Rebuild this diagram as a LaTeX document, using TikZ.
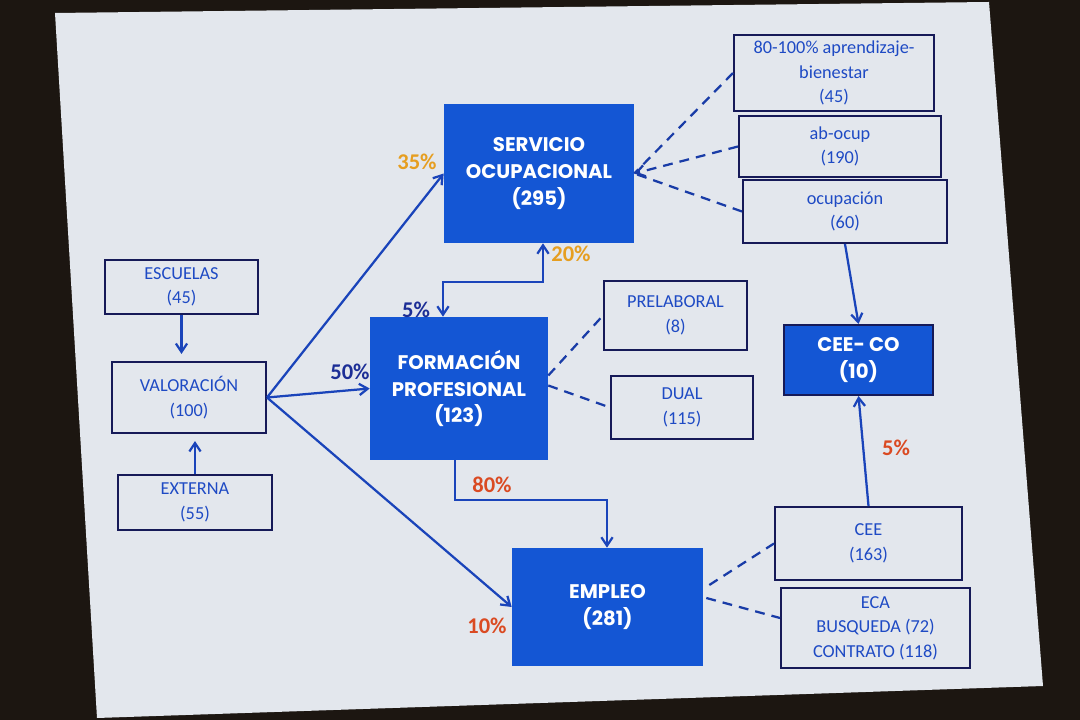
\documentclass[tikz,border=0pt]{standalone}
\usepackage{fontspec}
\setmainfont{Carlito}
\newfontfamily\headfont{Poppins}
\usetikzlibrary{arrows.meta, calc}
\definecolor{screenblack}{RGB}{28,22,17}
\definecolor{slidegrey}{RGB}{227,231,237}
\definecolor{boxblue}{RGB}{20,86,212}
\definecolor{textblue}{RGB}{30,74,196}
\definecolor{edgenavy}{RGB}{22,26,88}
\definecolor{arrowblue}{RGB}{26,68,186}
\definecolor{pctorange}{RGB}{230,158,32}
\definecolor{pctred}{RGB}{218,74,34}
\definecolor{pctnavy}{RGB}{28,46,150}

\begin{document}
\begin{tikzpicture}[x=0.025cm, y=-0.025cm,
  >={Straight Barb[length=6pt,width=8pt]},
  box/.style={draw=edgenavy, line width=1.4pt, fill=slidegrey, text=textblue, align=center, inner sep=2pt, font=\fontsize{13}{17.5}\selectfont},
  bluebox/.style={fill=boxblue, text=white, align=center, font=\headfont\bfseries\fontsize{14}{19}\selectfont},
  flow/.style={->, arrowblue, line width=1.6pt},
  link/.style={arrowblue!80!edgenavy, line width=1.6pt, dash pattern=on 7pt off 5pt},
  pct/.style={font=\bfseries\fontsize{16}{16}\selectfont}]
% Screen and slide
\fill[screenblack] (0,0) rectangle (1080,720);
\useasboundingbox (0,0) rectangle (1080,720);
\fill[slidegrey] (55,13) -- (989,2) -- (1043,686) -- (97,718) -- cycle;
% Left column
\node[box, minimum width=3.825cm, minimum height=1.35cm] (escuelas) at (181.5,287) {ESCUELAS\\(45)};
\node[box, minimum width=3.85cm, minimum height=1.775cm] (valoracion) at (189,397.5) {VALORACIÓN\\(100)};
\node[box, minimum width=3.85cm, minimum height=1.375cm] (externa) at (195,502.5) {EXTERNA\\(55)};
% Main blocks
\node[bluebox, minimum width=4.75cm, minimum height=3.475cm] (servicio) at (539,173.5) {SERVICIO\\OCUPACIONAL\\(295)};
\node[bluebox, minimum width=4.45cm, minimum height=3.575cm] (formacion) at (459,388.5) {FORMACIÓN\\PROFESIONAL\\(123)};
\node[bluebox, minimum width=4.775cm, minimum height=2.95cm] (empleo) at (607.5,607) {EMPLEO\\(281)};
\node[bluebox, draw=edgenavy, line width=1.4pt, minimum width=3.725cm, minimum height=1.75cm] (ceeco) at (858.5,360) {CEE- CO\\(10)};
% Right boxes
\node[box, minimum width=5cm, minimum height=1.9cm] (aprend) at (834,73) {80-100\% aprendizaje-\\bienestar\\(45)};
\node[box, minimum width=5.05cm, minimum height=1.525cm] (abocup) at (840,146.5) {ab-ocup\\(190)};
\node[box, minimum width=5.1cm, minimum height=1.575cm] (ocupacion) at (845,211.5) {ocupación\\(60)};
\node[box, minimum width=3.575cm, minimum height=1.725cm] (prelaboral) at (675.5,315.5) {PRELABORAL\\(8)};
\node[box, minimum width=3.55cm, minimum height=1.575cm] (dual) at (682,407.5) {DUAL\\(115)};
\node[box, minimum width=4.675cm, minimum height=1.825cm] (cee) at (868.5,543.5) {CEE\\(163)};
\node[box, minimum width=4.725cm, minimum height=2cm] (eca) at (875.5,628) {ECA\\BUSQUEDA (72)\\CONTRATO (118)};
% Into valoracion
\draw[flow, shorten >=5pt] (escuelas.south) -- (escuelas.south |- valoracion.north);
\draw[flow, shorten >=5pt] (externa.north) -- (externa.north |- valoracion.south);
% Out of valoracion
\draw[flow] (valoracion.east) -- (servicio.west);
\draw[flow] (valoracion.east) -- (formacion.west);
\draw[flow] (valoracion.east) -- (empleo.west);
% Between the main blocks
\coordinate (bendl) at (443,282);
\coordinate (bendr) at (543,282);
\draw[flow, <->] (formacion.north -| bendl) -- (bendl) -- (bendr) -- (servicio.south -| bendr);
\coordinate (bendd) at (455,500);
\coordinate (bende) at (607,500);
\draw[flow] (formacion.south -| bendd) -- (bendd) -- (bende) -- (empleo.north -| bende);
% Dashed links
\draw[link] (aprend.west) -- (servicio.east);
\draw[link, ->] (abocup.west) -- (servicio.east);
\draw[link] (ocupacion.west) -- (servicio.east);
\draw[link] ($(formacion.east)+(0,-13)$) -- (prelaboral.west);
\draw[link] ($(formacion.east)+(0,-3)$) -- (dual.west);
\draw[link] ($(empleo.east)+(6,-22)$) -- (cee.west);
\draw[link] ($(empleo.east)+(3,-9)$) -- ($(eca.west)+(0,-10)$);
% CEE-CO
\draw[flow] (ocupacion.south) -- (ceeco.north);
\draw[flow] (cee.north) -- (ceeco.south);
% Percentages
\node[pct, text=pctorange] (p35) at (417,162) {35\%};
\node[pct, text=pctorange] (p20) at (571,254) {20\%};
\node[pct, text=pctnavy] (p5) at (416,310) {5\%};
\node[pct, text=pctnavy] (p50) at (350,372) {50\%};
\node[pct, text=pctred] (p80) at (492,485) {80\%};
\node[pct, text=pctred] (p10) at (487,626) {10\%};
\node[pct, text=pctred] (p5b) at (896,448) {5\%};
\end{tikzpicture}
\end{document}
